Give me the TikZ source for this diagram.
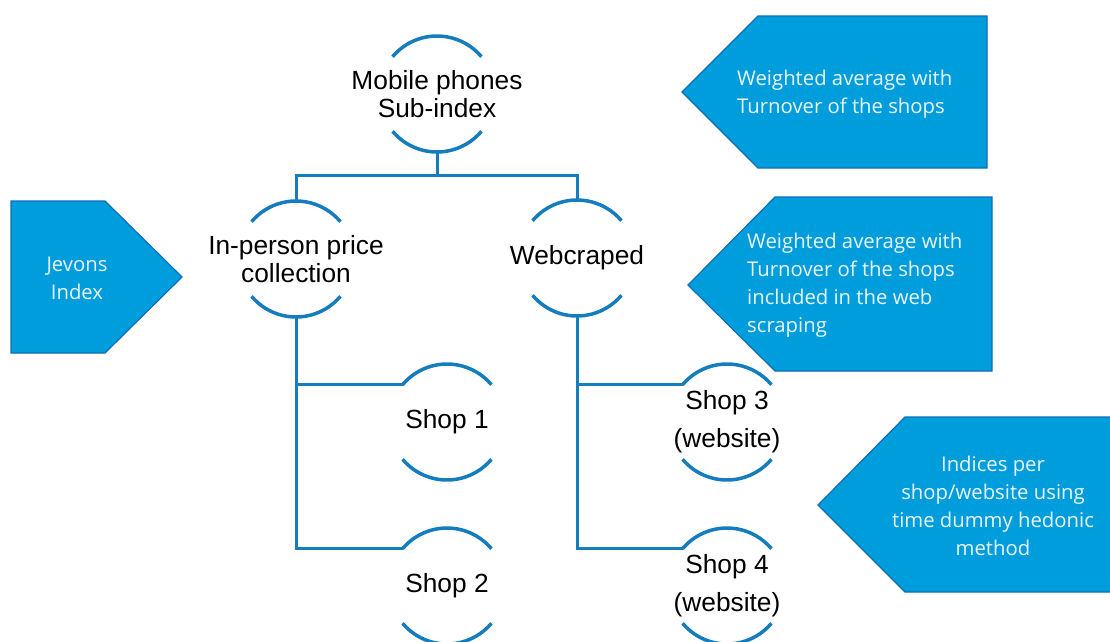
\documentclass[tikz,border=0pt]{standalone}
\usepackage{fontspec}
\setmainfont{Liberation Sans}
\newfontfamily\notefont{Open Sans}

\definecolor{treeblue}{RGB}{20,125,190}
\definecolor{tagblue}{RGB}{0,157,220}
\definecolor{tagedge}{RGB}{10,110,185}
\definecolor{notewhite}{RGB}{235,246,252}

\begin{document}
\begin{tikzpicture}[x=1pt,y=1pt,
	hub/.style={circle,minimum size=116pt,inner sep=0pt,outer sep=0pt,label={[hubtext]center:#1}},
	hubtext/.style={align=center,font=\fontsize{26.3}{28}\selectfont},
	ring/.style={draw=treeblue,line width=3.5pt},
	link/.style={draw=treeblue,line width=3pt},
	tag/.style={fill=tagblue,draw=tagedge,line width=1.2pt},
	tagtext/.style={text=notewhite,font=\notefont\fontsize{20.3}{28}\selectfont,inner sep=0pt}]
			\useasboundingbox (0,0) rectangle (1110,-641);
			
			% tree
			
			\node[hub={Mobile phones\\Sub-index}] (mob) at (437,-94) {};
			\node[hub={In-person price\\collection}] (inp) at (296,-259) {};
			\node[hub={Webcraped}] (web) at (577,-258) {};
			\node[hub={Shop 1}] (s1) at (447,-422) {};
			\node[hub={Shop 2}] (s2) at (447,-586) {};
			\node[hub={Shop 3\\[10pt](website)}] (s3) at (727,-422) {};
			\node[hub={Shop 4\\[10pt](website)}] (s4) at (727,-586) {};
			\foreach \n in {mob,inp,web,s1,s2,s3,s4} {
				\draw[ring] (\n.140) arc (140:40:58);
				\draw[ring] (\n.220) arc (220:320:58);
			}
			\draw[link] (mob.south) -- ++(0,-23) -| (inp.north);
			\draw[link] (mob.south) -- ++(0,-23) -| (web.north);
			\draw[link] (inp.south) |- (s1.140);
			\draw[link] (inp.south) |- (s2.140);
			\draw[link] (web.south) |- (s3.140);
			\draw[link] (web.south) |- (s4.140);
			
			% notes
			
			\filldraw[tag] (682,-92) -- (758,-16) -- (987,-16) -- (987,-168) -- (758,-168) -- cycle;
			\node[tagtext,align=left,anchor=west] (wavg) at (737,-94) {Weighted average with\\Turnover of the shops};
			\filldraw[tag] (688,-285) -- (775,-197) -- (992,-197) -- (992,-371) -- (775,-371) -- cycle;
			\node[tagtext,align=left,anchor=west] (wscr) at (747,-285) {Weighted average with\\Turnover of the shops\\included in the web\\scraping};
			\filldraw[tag] (11,-201) -- (105,-201) -- (182,-277) -- (105,-353) -- (11,-353) -- cycle;
			\node[tagtext,align=center] (jev) at (77,-278) {Jevons\\Index};
			\filldraw[tag] (818,-505) -- (905,-417) -- (1115,-417) -- (1115,-592) -- (905,-592) -- cycle;
			\node[tagtext,align=center] (hed) at (993,-506) {Indices per\\shop/website using\\time dummy hedonic\\method};
		\end{tikzpicture}
\end{document}
